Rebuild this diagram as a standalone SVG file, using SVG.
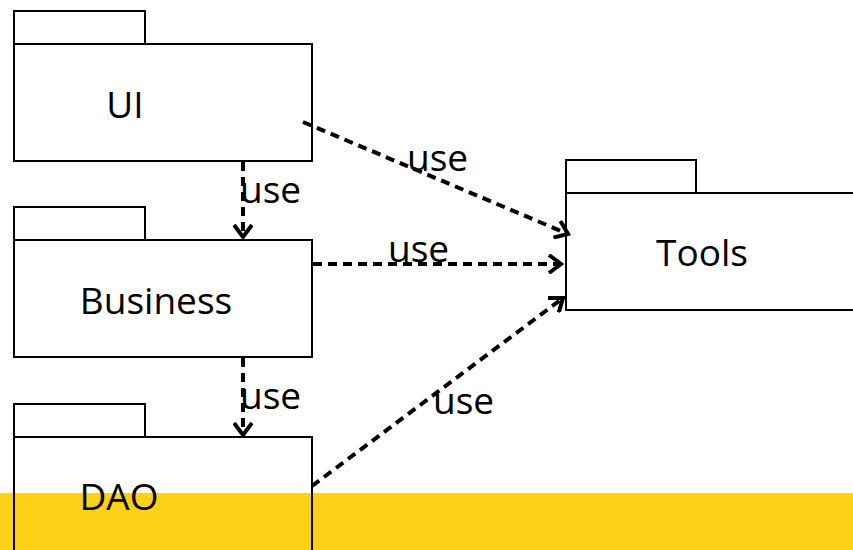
<svg xmlns="http://www.w3.org/2000/svg" width="853" height="550" viewBox="0 0 853 550">
<style>
.box{fill:none;stroke:#000;stroke-width:2}
.lbl{font-family:"Open Sans","Liberation Sans",sans-serif;font-size:37px;fill:#000}
.use{font-family:"Open Sans","Liberation Sans",sans-serif;font-size:37px;fill:#000}
.dep{fill:none;stroke:#000;stroke-width:4;stroke-dasharray:9 6}
</style>
<defs>
<marker id="arr" markerUnits="userSpaceOnUse" viewBox="0 0 20 20" markerWidth="20" markerHeight="20" refX="16" refY="10" orient="auto">
<path d="M4,1 L16,10 L4,19" fill="none" stroke="#000" stroke-width="4" stroke-dasharray="none"/>
</marker>
</defs>
<rect x="0" y="0" width="853" height="550" fill="#fff"/>
<rect x="0" y="493" width="853" height="57" fill="#fcd116"/>
<g id="ui">
<rect class="box" x="14" y="11" width="131" height="33"/>
<rect class="box" x="14" y="44" width="298" height="117"/>
<text class="lbl" x="125" y="118" text-anchor="middle">UI</text>
</g>
<g id="business">
<rect class="box" x="14" y="207" width="131" height="33"/>
<rect class="box" x="14" y="240" width="298" height="117"/>
<text class="lbl" x="156" y="314" text-anchor="middle">Business</text>
</g>
<g id="dao">
<rect class="box" x="14" y="404" width="131" height="33"/>
<rect class="box" x="14" y="437" width="298" height="130"/>
<text class="lbl" x="119" y="510" text-anchor="middle">DAO</text>
</g>
<g id="tools">
<rect class="box" x="566" y="160" width="130" height="33"/>
<rect class="box" x="566" y="193" width="300" height="117"/>
<text class="lbl" x="702" y="266" text-anchor="middle">Tools</text>
</g>
<g id="connectors">
<line class="dep" x1="303" y1="122" x2="568" y2="234" marker-end="url(#arr)"/>
<line class="dep" x1="243" y1="162" x2="243" y2="237" marker-end="url(#arr)"/>
<line class="dep" x1="313" y1="264" x2="561" y2="264" marker-end="url(#arr)"/>
<line class="dep" x1="243" y1="358" x2="243" y2="435" marker-end="url(#arr)"/>
<line class="dep" x1="312" y1="486" x2="563" y2="298" marker-end="url(#arr)"/>
<text class="use" x="407" y="171">use</text>
<text class="use" x="240" y="203">use</text>
<text class="use" x="388" y="262">use</text>
<text class="use" x="240" y="409">use</text>
<text class="use" x="433" y="414">use</text>
</g>
</svg>
